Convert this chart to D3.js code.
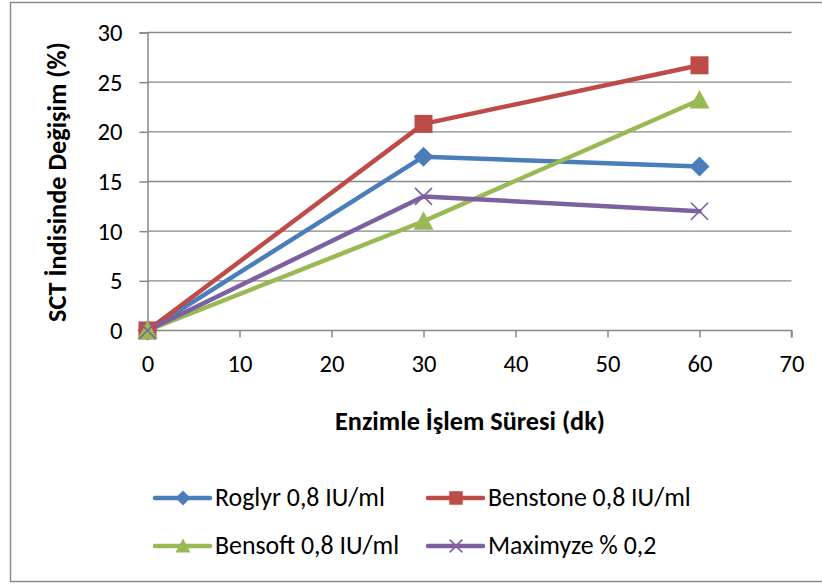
<!DOCTYPE html>
<html>
<head>
<meta charset="utf-8">
<script src="https://cdn.jsdelivr.net/npm/d3@7"></script>
<style>
  body { margin: 0; background: #fff; }
  svg { display: block; font-family: Carlito, Calibri, Lato, "Open Sans", sans-serif; }
</style>
</head>
<body>
<svg id="chart" width="822" height="584"></svg>
<script>
// Enzyme treatment time (minutes)
const times = [0, 30, 60];
const seriesNames = ["Roglyr 0,8 IU/ml", "Benstone 0,8 IU/ml", "Bensoft 0,8 IU/ml", "Maximyze % 0,2"];
const roglyr   = [0, 17.5, 16.5];
const benstone = [0, 20.8, 26.7];
const bensoft  = [0, 11.0, 23.2];
const maximyze = [0, 13.5, 12.0];
const xTicks = [0, 10, 20, 30, 40, 50, 60, 70];
const yTicks = [0, 5, 10, 15, 20, 25, 30];
const colors = ["#4a7ebb", "#be4b48", "#98b954", "#7d60a0"];
const markers = ["diamond", "square", "triangle", "cross"];

const series = [roglyr, benstone, bensoft, maximyze].map((vals, i) => ({
  name: seriesNames[i], color: colors[i], marker: markers[i],
  points: vals.map((v, j) => ({ x: times[j], y: v }))
}));

const svg = d3.select("#chart");
const FONT = "Carlito, Calibri, Lato, 'Open Sans', sans-serif";

// scale a text's font size so that it spans the wanted width
function fitSize(str, weight, width) {
  const t = svg.append("text").attr("font-size", 20).attr("font-weight", weight)
    .attr("font-family", FONT).text(str);
  const w = t.node().getComputedTextLength();
  t.remove();
  return 20 * width / w;
}
const tickSize = fitSize("70", "normal", 25);
const titleSize = fitSize("Enzimle İşlem Süresi (dk)", "bold", 270);
const legendSize = fitSize("Roglyr 0,8 IU/ml", "normal", 170);

// outer frame
svg.append("path")
  .attr("d", "M830,2.5 H10.5 V581.5 H830")
  .attr("fill", "none").attr("stroke", "#8c8c8c").attr("stroke-width", 1.5);

const x = d3.scaleLinear().domain([0, 70]).range([147.5, 791.5]);
const y = d3.scaleLinear().domain([0, 30]).range([330.5, 32.5]);

// horizontal gridlines
svg.append("g").selectAll("line").data(yTicks.filter(t => t > 0)).join("line")
  .attr("x1", x(0)).attr("x2", x(70))
  .attr("y1", d => y(d)).attr("y2", d => y(d))
  .attr("stroke", "#878787").attr("stroke-width", 1.3);

// y axis
const yAxis = svg.append("g").attr("transform", `translate(${x(0)},0)`)
  .call(d3.axisLeft(y).tickValues(yTicks).tickSize(8).tickPadding(17));
// x axis
const xAxis = svg.append("g").attr("transform", `translate(0,${y(0)})`)
  .call(d3.axisBottom(x).tickValues(xTicks).tickSize(7).tickPadding(34));

[yAxis, xAxis].forEach(g => {
  g.select(".domain").attr("stroke", "#878787").attr("stroke-width", 1.5);
  g.selectAll(".tick line").attr("stroke", "#878787").attr("stroke-width", 1.5);
  g.selectAll(".tick text").attr("fill", "#000").attr("font-size", tickSize)
    .attr("font-family", FONT);
});
xAxis.selectAll(".tick text").attr("dy", "0");
xAxis.select(".domain").attr("d", `M${x(0)},7V0H${x(70)}V7`);

// axis titles
svg.append("text")
  .attr("transform", `translate(66,${(322 + 42) / 2}) rotate(-90)`)
  .attr("text-anchor", "middle").attr("font-weight", "bold").attr("font-size", titleSize)
  .text("SCT İndisinde Değişim (%)");
svg.append("text")
  .attr("x", 470).attr("y", 430)
  .attr("text-anchor", "middle").attr("font-weight", "bold").attr("font-size", titleSize)
  .text("Enzimle İşlem Süresi (dk)");

// marker shapes
function drawMarker(g, type, color, s) {
  if (type === "diamond") {
    g.append("path").attr("d", `M0,${-s}L${s},0L0,${s}L${-s},0Z`).attr("fill", color);
  } else if (type === "square") {
    g.append("rect").attr("x", -s * 0.9).attr("y", -s * 0.9)
      .attr("width", s * 1.8).attr("height", s * 1.8).attr("fill", color);
  } else if (type === "triangle") {
    g.append("path").attr("d", `M0,${-s}L${s},${s * 0.85}L${-s},${s * 0.85}Z`).attr("fill", color);
  } else {
    const c = s * 0.85;
    g.append("path").attr("d", `M${-c},${-c}L${c},${c}M${-c},${c}L${c},${-c}`)
      .attr("stroke", color).attr("stroke-width", 1.6).attr("fill", "none");
  }
}

const line = d3.line().x(d => x(d.x)).y(d => y(d.y));
const plot = svg.append("g");
series.forEach(s => {
  plot.append("path").datum(s.points)
    .attr("d", line).attr("fill", "none")
    .attr("stroke", s.color).attr("stroke-width", 4.5)
    .attr("stroke-linejoin", "round").attr("stroke-linecap", "round");
});
series.forEach(s => {
  s.points.forEach(p => {
    const g = plot.append("g").attr("transform", `translate(${x(p.x)},${y(p.y)})`);
    drawMarker(g, s.marker, s.color, 10);
  });
});

// legend
const legendPos = [[155, 498], [428, 498], [155, 546], [428, 546]];
series.forEach((s, i) => {
  const [lx, ly] = legendPos[i];
  const g = svg.append("g").attr("transform", `translate(${lx},${ly})`);
  g.append("line").attr("x1", 0).attr("x2", 55).attr("y1", 0).attr("y2", 0)
    .attr("stroke", s.color).attr("stroke-width", 4.5).attr("stroke-linecap", "round");
  const m = g.append("g").attr("transform", "translate(28,0)");
  drawMarker(m, s.marker, s.color, 7.5);
  g.append("text").attr("x", 60).attr("y", 8)
    .attr("font-size", legendSize).attr("fill", "#000").text(s.name);
});
</script>
</body>
</html>
